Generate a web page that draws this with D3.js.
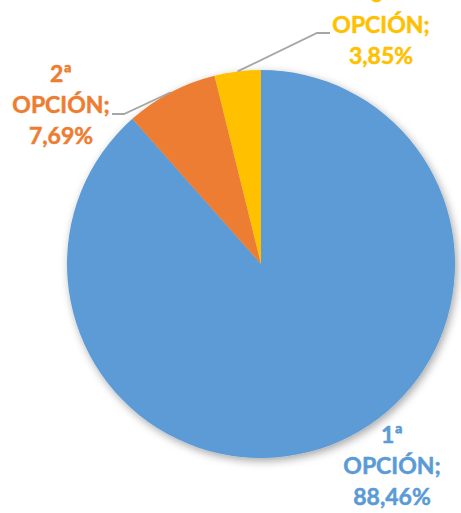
<!DOCTYPE html>
<html><head><meta charset="utf-8">
<script src="https://cdn.jsdelivr.net/npm/d3@7"></script>
<style>body{margin:0;background:#fff;}svg{display:block;}</style>
</head><body>
<svg id="chart" width="461" height="513"></svg>
<script>
const categories = ["1ª OPCIÓN", "2ª OPCIÓN", "3ª OPCIÓN"];
const values = [88.46, 7.69, 3.85];
const valueLabels = ["88,46%", "7,69%", "3,85%"];
const colors = ["#5B9BD5", "#ED7D31", "#FFC000"];

const svg = d3.select("#chart");
const cx = 261, cy = 264, R = 194;

const defs = svg.append("defs");
const f = defs.append("filter").attr("id","sh").attr("x","-20%").attr("y","-20%").attr("width","140%").attr("height","140%");
f.append("feDropShadow").attr("dx",2).attr("dy",3).attr("stdDeviation",4).attr("flood-color","#000").attr("flood-opacity",0.35);

const pie = d3.pie().sort(null).value(d => d);
const arcs = pie(values);
const arc = d3.arc().innerRadius(0).outerRadius(R);

const g = svg.append("g").attr("transform", `translate(${cx},${cy})`);
g.append("g").attr("filter","url(#sh)")
  .selectAll("path").data(arcs).join("path")
  .attr("d", arc).attr("fill", (d,i) => colors[i]);

// label layout (positions of label blocks, in page coords: center x, first baseline y)
const labelPos = [
  {x: 392, y: 443, leader: false},
  {x: 61, y: 82, leader: true, elbowX: 124, endX: 112, lineY: 114},
  {x: 381, y: 2, leader: true, elbowX: 317, endX: 330, lineY: 33}
];

arcs.forEach((d, i) => {
  const p = labelPos[i];
  if (p.leader) {
    const mid = (d.startAngle + d.endAngle) / 2;
    const ex = cx + R * Math.sin(mid), ey = cy - R * Math.cos(mid);
    svg.append("polyline")
      .attr("points", `${ex},${ey} ${p.elbowX},${p.lineY} ${p.endX},${p.lineY}`)
      .attr("fill","none").attr("stroke","#A6A6A6").attr("stroke-width",1.8);
  }
  const parts = categories[i].split(" ");
  const lines = [parts[0], parts[1] + ";", valueLabels[i]];
  const t = svg.append("text")
    .attr("text-anchor","middle")
    .attr("font-family","Lato, 'Open Sans', sans-serif")
    .attr("font-weight","bold")
    .attr("font-size", 23)
    .attr("fill", colors[i])
    .attr("stroke", colors[i])
    .attr("stroke-width", 0.5);
  lines.forEach((ln, k) => {
    t.append("tspan").attr("x", p.x).attr("y", p.y + k * 31).text(ln);
  });
});
</script>
</body></html>
